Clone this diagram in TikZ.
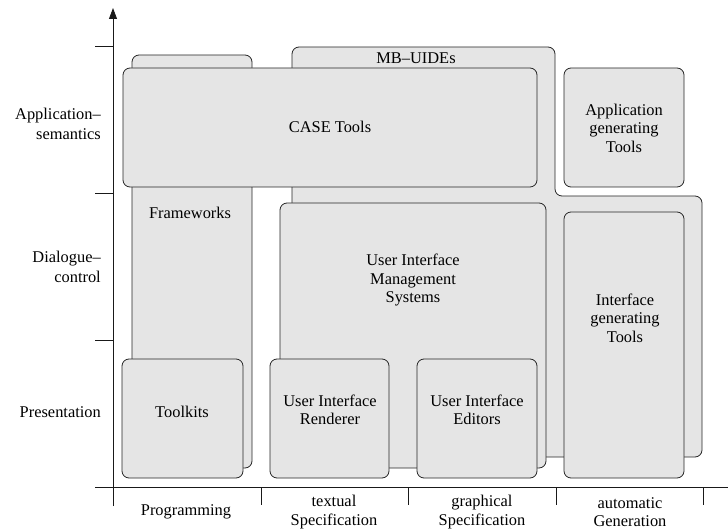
\documentclass[tikz,border=0pt]{standalone}
\usepackage{fontspec}
\setmainfont{Liberation Serif}
\usetikzlibrary{arrows.meta}
\begin{document}
\begin{tikzpicture}[x=1pt,y=-1pt,
  box/.style={draw=black!85, fill=black!10, rounded corners=7pt, line width=0.8pt},
  txt/.style={font=\fontsize{16.4}{18.6}\selectfont, align=center, inner sep=0pt},
  ltxt/.style={font=\fontsize{16.4}{20}\selectfont, align=right, inner sep=0pt, anchor=east},
  axis/.style={line width=0.8pt, draw=black!90}]
\useasboundingbox (0,0) rectangle (728,529);
% MB-UIDEs region
\draw[box] (292,457) -- (292,47) -- (555,47) -- (555,196) -- (702,196) -- (702,457) -- cycle;
\node[txt] (mb) at (416,58) {MB--UIDEs};
% Frameworks
\draw[box] (132,55) rectangle (252,468);
\node[txt] (fw) at (190,213) {Frameworks};
% CASE Tools
\draw[box] (123,68) rectangle (537,187);
\node[txt] (case) at (330,127) {CASE Tools};
% Application generating tools
\draw[box] (564,68) rectangle (684,187);
\node[txt] (agt) at (624,128) {Application\\generating\\Tools};
% Interface generating tools
\draw[box] (564,212) rectangle (684,478);
\node[txt] (igt) at (625,318) {Interface\\generating\\Tools};
% UIMS
\draw[box] (280,203) rectangle (546,468);
\node[txt] (uims) at (413,280) {User Interface\\Management\\Systems};
% Toolkits
\draw[box] (122,359) rectangle (243,478);
\node[txt] (tk) at (182,412) {Toolkits};
% UI Renderer
\draw[box] (270,359) rectangle (389,478);
\node[txt] (uir) at (330,410) {User Interface\\Renderer};
% UI Editors
\draw[box] (417,359) rectangle (537,478);
\node[txt] (uie) at (477,410) {User Interface\\Editors};
% axes
\coordinate (yb) at (113,506);
\coordinate (yt) at (113,8);
\draw[axis, -{Triangle[length=11pt,width=8pt]}] (yb) -- (yt);
\coordinate (xl) at (95,487);
\coordinate (xr) at (728,487);
\draw[axis] (xl) -- (xr);
\foreach \y in {46,193,340} \draw[axis] (95,\y) -- (113,\y);
\foreach \x in {261,408,556,703} \draw[axis] (\x,487) -- (\x,505);
% y labels
\node[ltxt] (l1) at (101,124) {Application--\\semantics};
\node[ltxt] (l2) at (101,267) {Dialogue--\\control};
\node[ltxt] (l3) at (101,412) {Presentation};
% x labels
\node[txt] (p1) at (186,512) {Programming};
\node[txt] (p2) at (334,512) {textual\\Specification};
\node[txt] (p3) at (482,512) {graphical\\Specification};
\node[txt] (p4) at (630,512) {automatic\\Generation};
\end{tikzpicture}
\end{document}
